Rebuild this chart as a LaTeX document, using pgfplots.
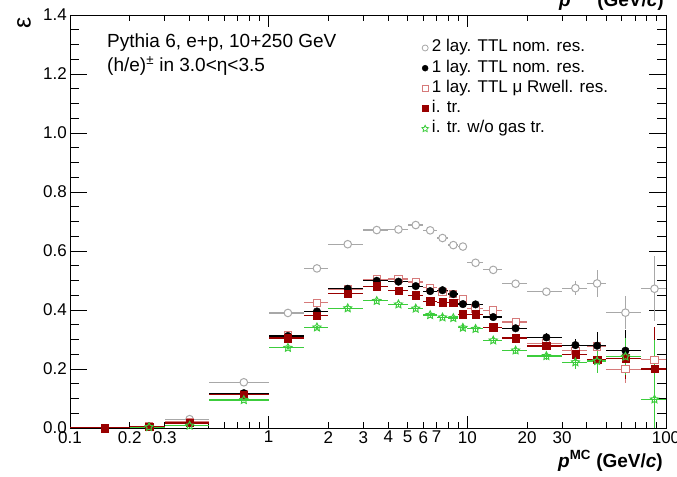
\documentclass[border=0pt]{standalone}
\usepackage{fontspec}
\setmainfont{Liberation Sans}
\usepackage{pgfplots}
\usepackage{pgfplotstable}
\pgfplotsset{compat=1.18}

\definecolor{cgrey}{RGB}{168,168,168}
\definecolor{copen}{RGB}{214,122,122}
\definecolor{cred}{RGB}{153,0,0}
\definecolor{cgreen}{RGB}{60,205,60}

% open five-pointed star, ROOT style
\pgfdeclareplotmark{ostar}{%
  \pgfpathmoveto{\pgfpointpolar{90}{\pgfplotmarksize}}%
  \pgfpathlineto{\pgfpointpolar{126}{0.5\pgfplotmarksize}}%
  \pgfpathlineto{\pgfpointpolar{162}{\pgfplotmarksize}}%
  \pgfpathlineto{\pgfpointpolar{198}{0.5\pgfplotmarksize}}%
  \pgfpathlineto{\pgfpointpolar{234}{\pgfplotmarksize}}%
  \pgfpathlineto{\pgfpointpolar{270}{0.5\pgfplotmarksize}}%
  \pgfpathlineto{\pgfpointpolar{306}{\pgfplotmarksize}}%
  \pgfpathlineto{\pgfpointpolar{342}{0.5\pgfplotmarksize}}%
  \pgfpathlineto{\pgfpointpolar{18}{\pgfplotmarksize}}%
  \pgfpathlineto{\pgfpointpolar{54}{0.5\pgfplotmarksize}}%
  \pgfpathclose
  \pgfusepathqstroke
}

% x = bin centre, ex = half bin width, y = efficiency, ey = stat. error
\pgfplotstableread{
x ex y ey
0.25 0.05 0.005 0.003
0.4 0.1 0.030 0.004
0.75 0.25 0.155 0.005
1.25 0.25 0.390 0.005
1.75 0.25 0.541 0.005
2.5 0.5 0.623 0.005
3.5 0.5 0.671 0.005
4.5 0.5 0.673 0.005
5.5 0.5 0.688 0.005
6.5 0.5 0.670 0.006
7.5 0.5 0.644 0.006
8.5 0.5 0.620 0.007
9.5 0.5 0.615 0.007
11 1 0.560 0.007
13.5 1.5 0.536 0.008
17.5 2.5 0.489 0.010
25 5 0.462 0.012
35 5 0.474 0.023
45 5 0.490 0.045
62.5 12.5 0.391 0.055
87.5 12.5 0.472 0.110
}\twolay

\pgfplotstableread{
x ex y ey
0.25 0.05 0.005 0.003
0.4 0.1 0.017 0.003
0.75 0.25 0.118 0.004
1.25 0.25 0.312 0.005
1.75 0.25 0.395 0.006
2.5 0.5 0.472 0.006
3.5 0.5 0.499 0.006
4.5 0.5 0.496 0.006
5.5 0.5 0.481 0.007
6.5 0.5 0.464 0.007
7.5 0.5 0.467 0.008
8.5 0.5 0.454 0.008
9.5 0.5 0.420 0.009
11 1 0.419 0.009
13.5 1.5 0.376 0.009
17.5 2.5 0.338 0.011
25 5 0.307 0.014
35 5 0.281 0.022
45 5 0.279 0.045
62.5 12.5 0.262 0.070
87.5 12.5 0.200 0.140
}\onelay

\pgfplotstableread{
x ex y ey
0.25 0.05 0.006 0.003
0.4 0.1 0.020 0.003
0.75 0.25 0.116 0.004
1.25 0.25 0.314 0.005
1.75 0.25 0.425 0.006
2.5 0.5 0.470 0.006
3.5 0.5 0.504 0.006
4.5 0.5 0.505 0.006
5.5 0.5 0.495 0.007
6.5 0.5 0.475 0.007
7.5 0.5 0.462 0.008
8.5 0.5 0.455 0.008
9.5 0.5 0.436 0.009
11 1 0.405 0.009
13.5 1.5 0.398 0.009
17.5 2.5 0.359 0.011
25 5 0.287 0.014
35 5 0.262 0.022
45 5 0.276 0.045
62.5 12.5 0.199 0.047
87.5 12.5 0.231 0.100
}\rwell

\pgfplotstableread{
x ex y ey
0.15 0.05 0.000 0.000
0.25 0.05 0.005 0.003
0.4 0.1 0.017 0.003
0.75 0.25 0.113 0.004
1.25 0.25 0.305 0.005
1.75 0.25 0.380 0.006
2.5 0.5 0.455 0.006
3.5 0.5 0.481 0.006
4.5 0.5 0.465 0.006
5.5 0.5 0.450 0.007
6.5 0.5 0.430 0.007
7.5 0.5 0.426 0.008
8.5 0.5 0.425 0.008
9.5 0.5 0.386 0.009
11 1 0.386 0.009
13.5 1.5 0.342 0.009
17.5 2.5 0.305 0.011
25 5 0.278 0.014
35 5 0.250 0.022
45 5 0.231 0.045
62.5 12.5 0.236 0.070
87.5 12.5 0.200 0.143
}\itr

\pgfplotstableread{
x ex y ey
0.25 0.05 0.003 0.003
0.4 0.1 0.008 0.003
0.75 0.25 0.095 0.004
1.25 0.25 0.272 0.005
1.75 0.25 0.341 0.006
2.5 0.5 0.406 0.006
3.5 0.5 0.431 0.006
4.5 0.5 0.419 0.006
5.5 0.5 0.405 0.007
6.5 0.5 0.383 0.007
7.5 0.5 0.375 0.008
8.5 0.5 0.373 0.008
9.5 0.5 0.340 0.009
11 1 0.336 0.009
13.5 1.5 0.297 0.009
17.5 2.5 0.263 0.011
25 5 0.244 0.014
35 5 0.223 0.022
45 5 0.227 0.040
62.5 12.5 0.242 0.063
87.5 12.5 0.097 0.200
}\nogas

\newcommand{\fs}[1]{\fontsize{#1}{#1}\selectfont}

\pgfplotsset{
  ebars/.style={error bars/.cd, x dir=both, x explicit, y dir=both, y explicit,
    error mark=none, error bar style={line width=1.2bp, #1}},
}

\begin{document}
\begin{tikzpicture}
% y ticks only (ROOT draws them longer than the x ticks)
\begin{axis}[at={(70bp,49bp)}, anchor=south west, scale only axis,
  width=596bp, height=413bp, xmin=-1, xmax=2, ymin=0, ymax=1.4,
  axis line style={line width=0.9bp}, every tick/.style={black, line width=0.9bp},
  xtick=\empty,
  ytick={0,0.2,0.4,0.6,0.8,1,1.2,1.4}, minor y tick num=3, yticklabels={},
  major tick length=17bp, minor tick length=9bp]
\addplot[draw=none] coordinates {(0,0.5)};
\end{axis}

\begin{axis}[at={(70bp,49bp)}, anchor=south west, scale only axis,
  width=596bp, height=413bp, xmode=log, xmin=0.1, xmax=100, ymin=0, ymax=1.4,
  axis line style={line width=0.9bp}, every tick/.style={black, line width=0.9bp},
  xtick={0.1,1,10,100}, xticklabels={0.1,1,10,100},
  minor xtick={0.2,0.3,0.4,0.5,0.6,0.7,0.8,0.9,2,3,4,5,6,7,8,9,20,30,40,50,60,70,80,90},
  extra x ticks={0.2,0.3,2,3,4,5,6,7,20,30},
  extra x tick labels={0.2,0.3,2,3,4,5,6,7,20,30},
  extra x tick style={major tick length=6bp},
  major tick length=12bp, minor tick length=6bp,
  ytick={0,0.2,0.4,0.6,0.8,1,1.2,1.4},
  yticklabels={0.0,0.2,0.4,0.6,0.8,1.0,1.2,1.4},
  ticklabel style={font=\fs{17bp}, inner sep=0pt},
  xticklabel style={yshift=-3bp}, yticklabel style={xshift=-3bp},
  legend image code/.code={\draw[#1] plot coordinates {(0bp,0bp)};},
  legend style={draw=none, fill=none, inner sep=0pt, font=\fs{17bp},
    at={(rel axis cs:0.59,0.94)}, anchor=north west, row sep=4.2bp,
    nodes={inner sep=0pt, text height=12bp, text depth=4bp},
    /tikz/every odd column/.append style={column sep=3.5bp}},
  legend cell align=left]

\addplot[only marks, mark=*, mark size=3.8bp, forget plot,
  mark options={draw=cgrey, fill=white, line width=1bp},
  ebars={cgrey}] table[x=x, y=y, x error=ex, y error=ey] {\twolay};
\addplot[only marks, mark=square*, mark size=3.6bp, forget plot,
  mark options={draw=copen, fill=white, line width=1bp},
  ebars={copen}] table[x=x, y=y, x error=ex, y error=ey] {\rwell};
\addplot[only marks, mark=*, mark size=3.8bp, forget plot,
  mark options={draw=black, fill=black},
  ebars={black}] table[x=x, y=y, x error=ex, y error=ey] {\onelay};
\addplot[only marks, mark=square*, mark size=3.7bp, forget plot,
  mark options={draw=cred, fill=cred},
  ebars={cred}] table[x=x, y=y, x error=ex, y error=ey] {\itr};
\addplot[only marks, mark=ostar, mark size=4.2bp, forget plot,
  mark options={draw=cgreen, line width=1bp},
  ebars={cgreen}] table[x=x, y=y, x error=ex, y error=ey] {\nogas};

\addlegendimage{only marks, mark=*, mark size=3bp, mark options={draw=cgrey, fill=white, line width=0.8bp}}
\addlegendentry{2 lay. TTL nom. res.}
\addlegendimage{only marks, mark=*, mark size=3bp, mark options={draw=black, fill=black}}
\addlegendentry{1 lay. TTL nom. res.}
\addlegendimage{only marks, mark=square*, mark size=3bp, mark options={draw=copen, fill=white, line width=0.8bp}}
\addlegendentry{1 lay. TTL μ Rwell. res.}
\addlegendimage{only marks, mark=square*, mark size=3bp, mark options={draw=cred, fill=cred}}
\addlegendentry{i. tr.}
\addlegendimage{only marks, mark=ostar, mark size=3.5bp, mark options={draw=cgreen, line width=0.8bp}}
\addlegendentry{i. tr. w/o gas tr.}
\end{axis}

\node[anchor=base west, inner sep=0pt, font=\fs{19bp}] at (107bp,429bp) {Pythia 6, e+p, 10+250 GeV};
\node[anchor=base west, inner sep=0pt, font=\fs{19bp}] at (107bp,405bp) {(h/e)\textsuperscript{±} in 3.0<η<3.5};
\node[rotate=90, inner sep=0pt, font=\fs{25bp}] at (24bp,454.5bp) {ε};
\node[anchor=base east, inner sep=0pt, font=\fs{19bp}\bfseries] at (663bp,10bp) {\textit{p}\textsuperscript{MC} (GeV/\textit{c})};
\node[anchor=base east, inner sep=0pt, font=\fs{19bp}\bfseries] at (664bp,470.5bp) {\textit{p}\textsuperscript{MC} (GeV/\textit{c})};

\pgfresetboundingbox
\useasboundingbox (0,0) rectangle (677bp,477bp);
\end{tikzpicture}
\end{document}
